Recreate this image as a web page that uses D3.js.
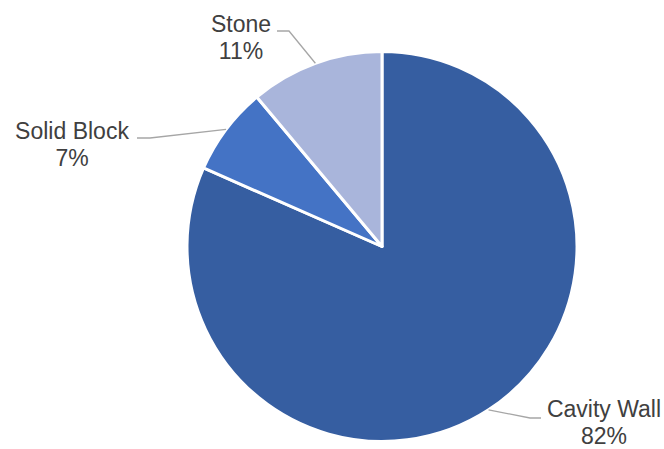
<!DOCTYPE html>
<html>
<head>
<meta charset="utf-8">
<script src="https://cdn.jsdelivr.net/npm/d3@7"></script>
<style>
  body { margin: 0; background: #fff; }
  text { font-family: "Liberation Sans", Arial, sans-serif; }
</style>
</head>
<body>
<svg width="664" height="449"></svg>
<script>
// data
const categories = ["Cavity Wall", "Solid Block", "Stone"];
const shares = [81.6, 7.3, 11.1];
const colors = ["#365EA1", "#4473C5", "#A9B5DB"];

const svg = d3.select("svg");
const cx = 382, cy = 246.5, radius = 195;

// label placement (elbow point, line end, text centre/baseline) per slice
const labelLayout = {
  "Cavity Wall": {elbow: [530, 418], end: [541, 418], tx: 604, ty: 417},
  "Solid Block": {elbow: [150, 138], end: [137, 138], tx: 72, ty: 139},
  "Stone":       {elbow: [289, 31],  end: [277, 31],  tx: 241, ty: 32}
};

const pie = d3.pie().sort(null).value(d => d.value);
const arcs = pie(categories.map((c, i) => ({name: c, value: shares[i]})));
const arc = d3.arc().innerRadius(0).outerRadius(radius);

const g = svg.append("g").attr("transform", `translate(${cx},${cy})`);

g.selectAll("path.slice")
  .data(arcs)
  .join("path")
  .attr("class", "slice")
  .attr("d", arc)
  .attr("fill", (d, i) => colors[i])
  .attr("stroke", "#fff")
  .attr("stroke-width", 3)
  .attr("stroke-linejoin", "round");

// leader lines and labels
arcs.forEach(d => {
  const L = labelLayout[d.data.name];
  const mid = (d.startAngle + d.endAngle) / 2;
  const px = cx + Math.sin(mid) * radius;
  const py = cy - Math.cos(mid) * radius;

  svg.append("polyline")
    .attr("points", [[px, py], L.elbow, L.end].map(p => p.join(",")).join(" "))
    .attr("fill", "none")
    .attr("stroke", "#A6A6A6")
    .attr("stroke-width", 1.3);

  const t = svg.append("text")
    .attr("text-anchor", "middle")
    .attr("fill", "#404040")
    .style("font-size", "23px");
  t.append("tspan").attr("x", L.tx).attr("y", L.ty).text(d.data.name);
  t.append("tspan").attr("x", L.tx).attr("y", L.ty + 27).text(Math.round(d.data.value) + "%");
});
</script>
</body>
</html>
